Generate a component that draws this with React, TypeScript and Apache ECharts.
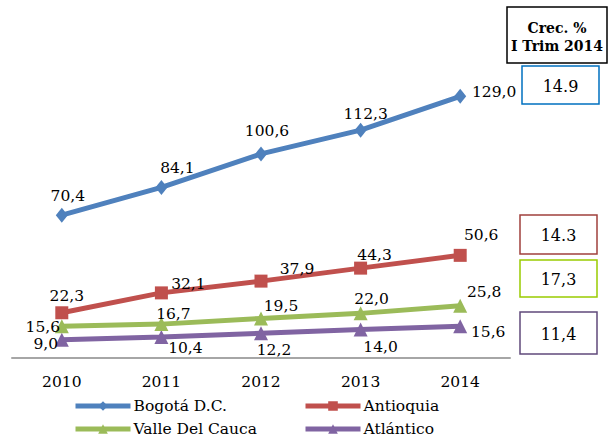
import React, { useEffect, useRef } from "react";
import * as echarts from "echarts";

const years = ["2010", "2011", "2012", "2013", "2014"];
const seriesNames = ["Bogotá D.C.", "Antioquia", "Valle Del Cauca", "Atlántico"];
const bogota = [70.4, 84.1, 100.6, 112.3, 129.0];
const antioquia = [22.3, 32.1, 37.9, 44.3, 50.6];
const valle = [15.6, 16.7, 19.5, 22.0, 25.8];
const atlantico = [9.0, 10.4, 12.2, 14.0, 15.6];
const growthHeader = ["Crec. %", "I Trim 2014"];
const growth = ["14.9", "14.3", "17,3", "11,4"];

const colors = ["#4F81BD", "#C0504D", "#9BBB59", "#8064A2"];
const symbols = ["diamond", "rect", "triangle", "triangle"];
const symbolSizes: any[] = [[12, 15], 13, 14, 14];
const labelOffsets = [
  [[6, -19], [16, -19], [6, -23], [5, -16], [34, -4]],
  [[5, -17], [27, -9], [36, -12], [14, -13], [21, -20]],
  [[-19, 1], [12, -10], [20, -12], [11, -14], [24, -14]],
  [[-16, 4], [24, 11], [13, 17], [20, 17], [28, 6]],
];
const boxColors = ["#0070C0", "#A0403D", "#99CC00", "#604A7B"];
const boxes = [
  { x: 522, y: 66, w: 77, h: 38 },
  { x: 520, y: 215, w: 77, h: 39 },
  { x: 520, y: 260, w: 77, h: 37 },
  { x: 520, y: 312, w: 77, h: 42 },
];

const FONT = "'DejaVu Serif', serif";

export default function App() {
  const ref = useRef<HTMLDivElement>(null);
  useEffect(() => {
    if (!ref.current) return;
    const chart = echarts.init(ref.current, undefined, { renderer: "svg" });
    const allData = [bogota, antioquia, valle, atlantico];
    const series = allData.map((d, si) => ({
      name: seriesNames[si],
      type: "line",
      data: d.map((v, i) => ({
        value: v,
        label: {
          show: true,
          position: "inside",
          offset: labelOffsets[si][i],
        },
      })),
      symbol: symbols[si],
      symbolSize: symbolSizes[si],
      showAllSymbol: true,
      lineStyle: { color: colors[si], width: 5 },
      itemStyle: { color: colors[si] },
      label: {
        show: true,
        color: "#000",
        fontFamily: FONT,
        fontSize: 15.5,
        align: "center",
        verticalAlign: "middle",
        formatter: (p: any) => Number(p.value).toFixed(1).replace(".", ","),
      },
      emphasis: { disabled: true },
      z: 10 - si,
    }));

    const legendPos = [
      { left: 73, top: 398 },
      { left: 303, top: 398 },
      { left: 73, top: 421 },
      { left: 303, top: 421 },
    ];
    const legends = seriesNames.map((n, i) => ({
      data: [n],
      left: legendPos[i].left,
      top: legendPos[i].top,
      itemWidth: 55,
      itemHeight: 12,
      itemGap: 0,
      padding: 0,
      lineStyle: { width: 5, color: colors[i] },
      textStyle: { fontFamily: FONT, fontSize: 15.5, color: "#000", padding: [0, 0, 0, -2] },
      selectedMode: false,
    }));

    const graphics: any[] = [];
    graphics.push({
      type: "rect",
      shape: { x: 507, y: 7, width: 100, height: 56 },
      style: { fill: "#fff", stroke: "#000", lineWidth: 1.5 },
    });
    graphics.push({
      type: "text",
      style: {
        text: growthHeader[0],
        x: 557,
        y: 28,
        align: "center",
        verticalAlign: "middle",
        font: "bold 14px 'DejaVu Serif', serif",
        fill: "#000",
      },
    });
    graphics.push({
      type: "text",
      style: {
        text: growthHeader[1],
        x: 557,
        y: 46,
        align: "center",
        verticalAlign: "middle",
        font: "bold 14px 'DejaVu Serif', serif",
        fill: "#000",
      },
    });
    boxes.forEach((b, i) => {
      graphics.push({
        type: "rect",
        shape: { x: b.x, y: b.y, width: b.w, height: b.h },
        style: { fill: "#fff", stroke: boxColors[i], lineWidth: 1.5 },
      });
      graphics.push({
        type: "text",
        style: {
          text: growth[i],
          x: b.x + b.w / 2,
          y: b.y + b.h / 2 + 1,
          align: "center",
          verticalAlign: "middle",
          font: "16px 'DejaVu Serif', serif",
          fill: "#000",
        },
      });
    });

    chart.setOption({
      animation: false,
      backgroundColor: "#fff",
      grid: { left: 12, right: 98, top: 74, bottom: 79, containLabel: false },
      xAxis: {
        type: "category",
        data: years,
        boundaryGap: true,
        axisTick: { show: false },
        axisLine: { lineStyle: { color: "#A6A6A6", width: 2 } },
        axisLabel: { color: "#000", fontFamily: FONT, fontSize: 15.5, margin: 16 },
      },
      yAxis: {
        type: "value",
        min: 0,
        max: 140,
        show: false,
        splitLine: { show: false },
      },
      legend: legends,
      series,
      graphic: graphics,
    });
    return () => chart.dispose();
  }, []);
  return <div ref={ref} style={{ width: 608, height: 437, position: "absolute", left: 0, top: 0 }} />;
}
